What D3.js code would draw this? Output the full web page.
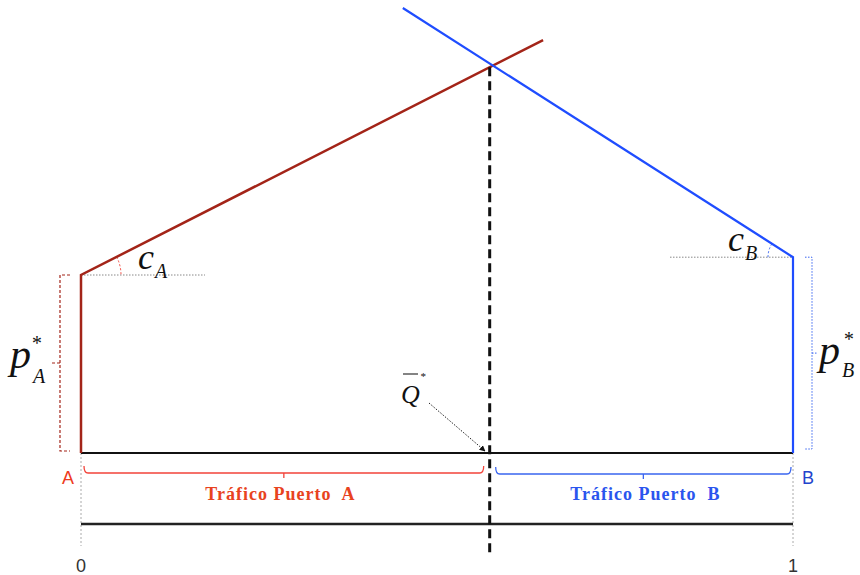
<!DOCTYPE html>
<html>
<head>
<meta charset="utf-8">
<script src="https://d3js.org/d3.v7.min.js"></script>
<style>
  body { margin: 0; background: #fff; }
  .math { font-family: "Liberation Serif", "DejaVu Serif", serif; font-style: italic; fill: #111; }
  .lbl { font-family: "Liberation Serif", "DejaVu Serif", serif; font-weight: 600; white-space: pre; letter-spacing: 1px; }
  .sans { font-family: "Liberation Sans", Arial, sans-serif; }
</style>
</head>
<body>
<svg width="860" height="575"></svg>
<script>
  // data (x = share of traffic 0..1, y = generalised cost, arbitrary units)
  var pA = 0.40, pB = 0.44;
  var qStar = 0.574;
  var lineA = [[0, 0], [0, pA], [0.649, 0.928]];
  var lineB = [[1, 0], [1, pB], [0.452, 1.0]];
  var xTicks = [0, 1];
  var portLabels = ["A", "B"];
  var trafficLabels = ["Tráfico Puerto  A", "Tráfico Puerto  B"];

  var svg = d3.select("svg");
  var x = d3.scaleLinear().domain([0, 1]).range([81, 793]);
  var y = d3.scaleLinear().domain([0, 1]).range([453, 8]);

  var red = "#a32418", blue = "#1f4dff", lightRed = "#f2433a", lightBlue = "#3a66f0";
  var line = d3.line().x(function(d) { return x(d[0]); }).y(function(d) { return y(d[1]); });

  // gray dotted guide lines
  svg.append("line").attr("x1", x(0)).attr("x2", x(0)).attr("y1", y(0)).attr("y2", 546)
    .attr("stroke", "#aaa").attr("stroke-width", 1).attr("stroke-dasharray", "2,2");
  svg.append("line").attr("x1", x(1)).attr("x2", x(1)).attr("y1", y(0)).attr("y2", 546)
    .attr("stroke", "#aaa").attr("stroke-width", 1).attr("stroke-dasharray", "2,2");
  svg.append("line").attr("x1", x(0)).attr("x2", x(0) + 124).attr("y1", y(pA)).attr("y2", y(pA))
    .attr("stroke", "#888").attr("stroke-width", 1).attr("stroke-dasharray", "1.5,1.5");
  svg.append("line").attr("x1", x(1) - 123).attr("x2", x(1)).attr("y1", y(pB)).attr("y2", y(pB))
    .attr("stroke", "#888").attr("stroke-width", 1).attr("stroke-dasharray", "1.5,1.5");

  // angle arcs
  var angA = Math.atan2(y(lineA[2][1]) - y(lineA[1][1]), x(lineA[2][0]) - x(lineA[1][0]));
  var pa = d3.path();
  pa.arc(x(0), y(pA), 40, angA, 0);
  svg.append("path").attr("d", pa.toString()).attr("fill", "none")
    .attr("stroke", lightRed).attr("stroke-width", 1).attr("stroke-dasharray", "2,2");
  var angB = Math.atan2(y(lineB[2][1]) - y(lineB[1][1]), x(lineB[2][0]) - x(lineB[1][0]));
  var pb = d3.path();
  pb.arc(x(1), y(pB), 25, Math.PI, angB + 2 * Math.PI);
  svg.append("path").attr("d", pb.toString()).attr("fill", "none")
    .attr("stroke", lightBlue).attr("stroke-width", 1).attr("stroke-dasharray", "2,2");

  // baseline and axis
  svg.append("line").attr("x1", x(0)).attr("x2", x(1)).attr("y1", y(0)).attr("y2", y(0))
    .attr("stroke", "#111").attr("stroke-width", 2);
  svg.append("line").attr("x1", x(0)).attr("x2", x(1)).attr("y1", 524).attr("y2", 524)
    .attr("stroke", "#222").attr("stroke-width", 2.5);

  // cost lines
  svg.append("path").datum(lineA).attr("d", line).attr("fill", "none")
    .attr("stroke", red).attr("stroke-width", 2.5);
  svg.append("path").datum(lineB).attr("d", line).attr("fill", "none")
    .attr("stroke", blue).attr("stroke-width", 2.2);

  // dashed equilibrium line
  var yCross = y(pA + (lineA[2][1] - pA) / lineA[2][0] * qStar);
  svg.append("line").attr("x1", x(qStar)).attr("x2", x(qStar)).attr("y1", yCross).attr("y2", 556)
    .attr("stroke", "#111").attr("stroke-width", 3).attr("stroke-dasharray", "9,5");

  // brackets for p*
  var ya0 = y(pA), ya1 = y(0) - 2, yam = (ya0 + ya1) / 2;
  svg.append("path").attr("d", "M70," + ya0 + "H60V" + ya1 + "H70M60," + yam + "H52")
    .attr("fill", "none").attr("stroke", red).attr("stroke-width", 1.2).attr("stroke-dasharray", "3,2");
  var yb0 = y(pB), yb1 = y(0) - 4, ybm = (yb0 + yb1) / 2;
  svg.append("path").attr("d", "M805," + yb0 + "H812V" + yb1 + "H805M812," + ybm + "H818")
    .attr("fill", "none").attr("stroke", lightBlue).attr("stroke-width", 1).attr("stroke-dasharray", "1.5,1.5");

  // math labels
  svg.append("text").attr("class", "math").attr("x", 10).attr("y", 368).attr("font-size", 42).text("p");
  svg.append("text").attr("class", "math").attr("x", 31).attr("y", 350).attr("font-size", 20).text("*");
  svg.append("text").attr("class", "math").attr("x", 33).attr("y", 383).attr("font-size", 20).text("A");
  svg.append("text").attr("class", "math").attr("x", 819).attr("y", 364).attr("font-size", 42).text("p");
  svg.append("text").attr("class", "math").attr("x", 843).attr("y", 346).attr("font-size", 20).text("*");
  svg.append("text").attr("class", "math").attr("x", 842).attr("y", 377).attr("font-size", 20).text("B");
  svg.append("text").attr("class", "math").attr("x", 138).attr("y", 269).attr("font-size", 36).text("c");
  svg.append("text").attr("class", "math").attr("x", 155).attr("y", 278).attr("font-size", 20).text("A");
  svg.append("text").attr("class", "math").attr("x", 728).attr("y", 251).attr("font-size", 36).text("c");
  svg.append("text").attr("class", "math").attr("x", 745).attr("y", 260).attr("font-size", 20).text("B");

  // Q bar label with arrow
  svg.append("defs").append("marker").attr("id", "arr").attr("viewBox", "0 0 10 10")
    .attr("refX", 9).attr("refY", 5).attr("markerWidth", 6).attr("markerHeight", 6)
    .attr("orient", "auto").append("path").attr("d", "M0,0L10,5L0,10z").attr("fill", "#111");
  svg.append("text").attr("class", "math").attr("x", 401).attr("y", 403).attr("font-size", 26)
    .attr("fill", "#333").text("Q");
  svg.append("line").attr("x1", 403).attr("x2", 418).attr("y1", 374).attr("y2", 374)
    .attr("stroke", "#333").attr("stroke-width", 1.2);
  svg.append("text").attr("class", "math").attr("x", 420).attr("y", 380).attr("font-size", 11).text("*");
  svg.append("line").attr("x1", 429).attr("x2", 485).attr("y1", 403).attr("y2", 451)
    .attr("stroke", "#222").attr("stroke-width", 1).attr("stroke-dasharray", "1.5,1.5")
    .attr("marker-end", "url(#arr)");

  // traffic braces
  function brace(x0, x1, yy, color) {
    var xm = (x0 + x1) / 2;
    return svg.append("path")
      .attr("d", "M" + x0 + "," + (yy - 7) + "Q" + x0 + "," + yy + " " + (x0 + 4) + "," + yy +
        "H" + (x1 - 4) + "Q" + x1 + "," + yy + " " + x1 + "," + (yy - 7) +
        "M" + xm + "," + yy + "V" + (yy + 5))
      .attr("fill", "none").attr("stroke", color).attr("stroke-width", 1.3);
  }
  brace(x(0) + 3, x(qStar) - 6, 473, lightRed);
  brace(x(qStar) + 6, x(1) - 2, 474, lightBlue);

  svg.append("text").attr("class", "lbl").attr("x", (x(0) + x(qStar)) / 2 - 5).attr("y", 500)
    .attr("text-anchor", "middle").attr("font-size", 18).attr("fill", "#e8431e").text(trafficLabels[0]);
  svg.append("text").attr("class", "lbl").attr("x", (x(qStar) + x(1)) / 2 + 4).attr("y", 500)
    .attr("text-anchor", "middle").attr("font-size", 18).attr("fill", "#2a55ee").text(trafficLabels[1]);

  // port letters and ticks
  svg.append("text").attr("class", "sans").attr("x", 68).attr("y", 484).attr("text-anchor", "middle")
    .attr("font-size", 18).attr("fill", "#ee3a20").text(portLabels[0]);
  svg.append("text").attr("class", "sans").attr("x", 808).attr("y", 484).attr("text-anchor", "middle")
    .attr("font-size", 18).attr("fill", "#2244cc").text(portLabels[1]);
  svg.selectAll(".tick").data(xTicks).enter().append("text").attr("class", "sans tick")
    .attr("x", function(d) { return x(d); }).attr("y", 572).attr("text-anchor", "middle")
    .attr("font-size", 18).attr("fill", "#333").text(function(d) { return d; });
</script>
</body>
</html>
